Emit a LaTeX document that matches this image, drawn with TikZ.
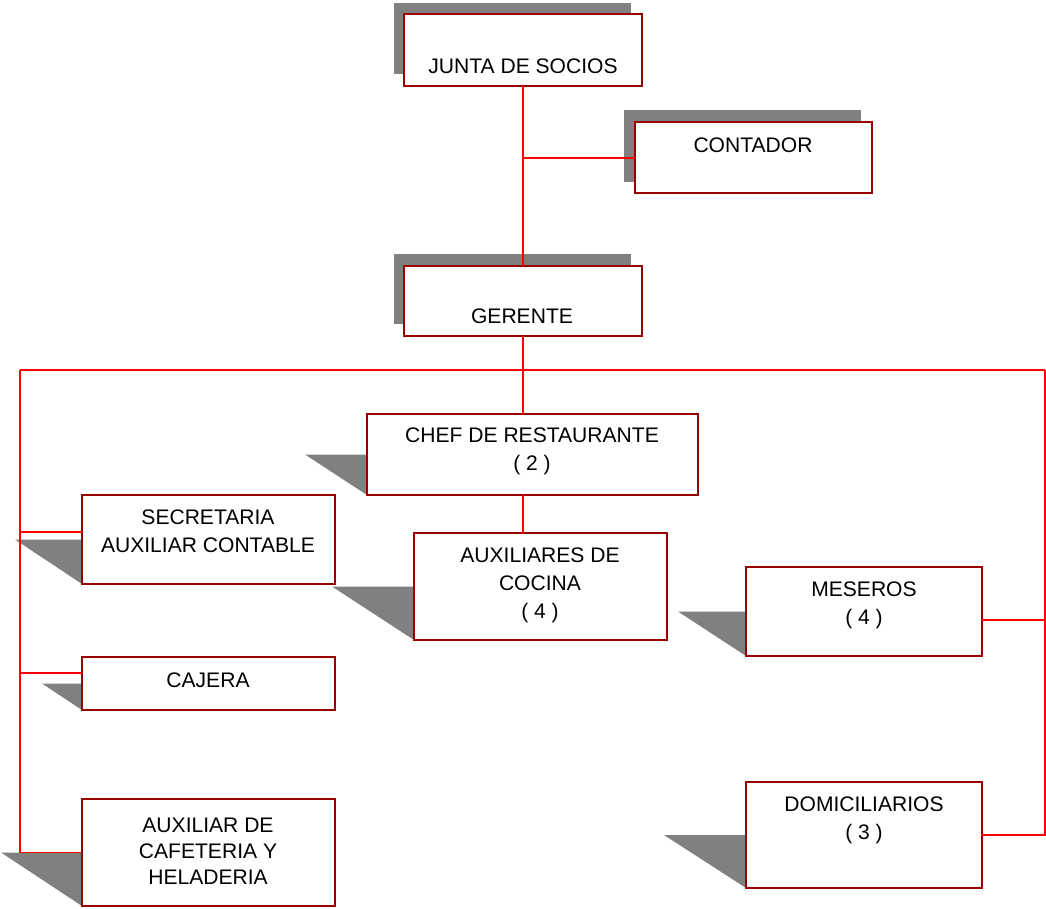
\documentclass[tikz,border=0pt]{standalone}
\usepackage{fontspec}
\setmainfont{Liberation Sans}
\usetikzlibrary{backgrounds}
\definecolor{boxred}{HTML}{990000}
\definecolor{linered}{HTML}{FF0000}
\definecolor{shade}{HTML}{808080}
\newcommand\mkbox[5]{\node[box, minimum width={(#4-#2)*0.75pt}, minimum height={(#5-#3)*0.75pt}] (#1) at (#2,#3) {};}
\begin{document}
\begin{tikzpicture}[x=0.75pt,y=-0.75pt,
  box/.style={draw=boxred, line width=0.8pt, fill=white, inner sep=0pt, outer sep=0pt, anchor=north west},
  conn/.style={draw=linered, line width=0.8pt},
  txt/.style={inner sep=0pt, align=center, font=\fontsize{15.8}{21}\selectfont},
  shadow/.style={fill=shade, draw=none}]
\useasboundingbox (0,0) rectangle (1046,909);

% boxes
\mkbox{junta}{404}{14}{642}{86}
\mkbox{contador}{635}{122}{872}{193}
\mkbox{gerente}{404}{266}{642}{336}
\mkbox{chef}{367}{414}{698}{495}
\mkbox{aux}{414}{533}{667}{640}
\mkbox{sec}{82}{495}{335}{584}
\mkbox{caj}{82}{657}{335}{710}
\mkbox{cafe}{82}{799}{335}{906}
\mkbox{mes}{746}{567}{982}{656}
\mkbox{dom}{746}{782}{982}{888}

% shadows
\begin{scope}[on background layer]
  \fill[shadow] (394,3) rectangle (631,74);
  \fill[shadow] (624,110) rectangle (861,182);
  \fill[shadow] (394,254) rectangle (631,324);
  \fill[shadow] ([xshift=-62*0.75pt]chef.west) -- (chef.west) -- (chef.south west) -- cycle;
  \fill[shadow] ([xshift=-82*0.75pt]aux.west) -- (aux.west) -- (aux.south west) -- cycle;
  \fill[shadow] ([xshift=-67*0.75pt]sec.west) -- (sec.west) -- (sec.south west) -- cycle;
  \fill[shadow] ([xshift=-40*0.75pt]caj.west) -- (caj.west) -- (caj.south west) -- cycle;
  \fill[shadow] ([xshift=-81*0.75pt]cafe.west) -- (cafe.west) -- (cafe.south west) -- cycle;
  \fill[shadow] ([xshift=-68*0.75pt]mes.west) -- (mes.west) -- (mes.south west) -- cycle;
  \fill[shadow] ([xshift=-82*0.75pt]dom.west) -- (dom.west) -- (dom.south west) -- cycle;
\end{scope}

% texts
\node[txt, anchor=base] (tjunta) at (523,74) {JUNTA DE SOCIOS};
\node[txt, anchor=base] (tcontador) at (753,153) {CONTADOR};
\node[txt, anchor=base] (tgerente) at (522,324) {GERENTE};
\node[txt, anchor=north] (tchef) at (532,428) {CHEF DE RESTAURANTE\\( 2 )};
\node[txt, anchor=north] (taux) at (540,548) {AUXILIARES DE\\COCINA\\( 4 )};
\node[txt, anchor=north] (tsec) at (208,510) {SECRETARIA\\AUXILIAR CONTABLE};
\node[txt, anchor=base] (tcaj) at (208,687) {CAJERA};
\node[txt, anchor=north, font=\fontsize{15.8}{19.5}\selectfont] (tcafe) at (208,818) {AUXILIAR DE\\CAFETERIA Y\\HELADERIA};
\node[txt, anchor=north] (tmes) at (864,582) {MESEROS\\( 4 )};
\node[txt, anchor=north] (tdom) at (864,797) {DOMICILIARIOS\\( 3 )};

% connectors
\draw[conn] (junta.south) -- (gerente.north);
\coordinate (jc) at (523,158);
\draw[conn] (jc) -- (contador.west |- jc);
\draw[conn] (gerente.south) -- (gerente.south |- chef.north);
\draw[conn] (chef.south -| gerente.south) -- (aux.north -| gerente.south);
\coordinate (busL) at (20,370);
\coordinate (busR) at (1045,370);
\draw[conn] (busL) -- (busR);
\draw[conn] (busL) |- (cafe.west);
\coordinate (secJ) at (20,532);
\draw[conn] (secJ) -- (secJ -| sec.west);
\coordinate (cajJ) at (20,673);
\draw[conn] (cajJ) -- (cajJ -| caj.west);
\draw[conn] (busR) |- (dom.east);
\coordinate (mesJ) at (1045,620);
\draw[conn] (mesJ) -- (mesJ -| mes.east);
\end{tikzpicture}
\end{document}
